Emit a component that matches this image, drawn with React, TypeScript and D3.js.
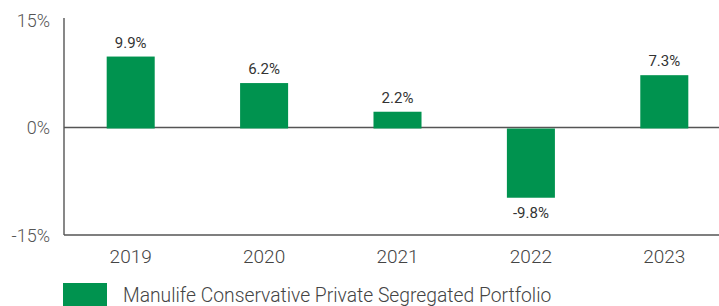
import * as d3 from "d3";

const years = ["2019", "2020", "2021", "2022", "2023"];
const returns = [9.9, 6.2, 2.2, -9.8, 7.3];
const yTicks = [-15, 0, 15];
const seriesName = "Manulife Conservative Private Segregated Portfolio";

const W = 719;
const H = 306;
const FONT = "Roboto, 'Noto Sans', sans-serif";

export default function App() {
  const x = d3.scaleBand<string>().domain(years).range([64, 731]).paddingInner(0.64).paddingOuter(0.32);
  const y = d3.scaleLinear().domain([-15, 15]).range([235, 20]);

  return (
    <svg width={W} height={H} style={{ position: "absolute", left: 0, top: 0, background: "#fff" }}>
      {/* axes */}
      <line x1={64} x2={64} y1={18} y2={y(-15)} stroke="#555" strokeWidth={1.4} />
      <line x1={64} x2={W} y1={y(0)} y2={y(0)} stroke="#555" strokeWidth={1.4} />
      <line x1={64} x2={W} y1={y(-15)} y2={y(-15)} stroke="#555" strokeWidth={1.4} />

      {yTicks.map((t) => (
        <text key={t} x={50} y={y(t) + 2} textAnchor="end" dominantBaseline="middle"
          fontFamily={FONT} fontWeight={300} fontSize={18} fill="#555">
          {t}%
        </text>
      ))}

      {returns.map((v, i) => {
        const x0 = x(years[i])!;
        const top = v >= 0 ? y(v) : y(0) + 1;
        const bot = v >= 0 ? y(0) + 1 : y(v);
        return (
          <g key={years[i]}>
            <rect x={x0} y={top} width={x.bandwidth()} height={bot - top} fill="#00934f" />
            <text x={x0 + x.bandwidth() / 2} y={v >= 0 ? y(v) - 9 : y(v) + 20}
              textAnchor="middle" fontFamily={FONT} fontSize={15} fill="#333">
              {v.toFixed(1)}%
            </text>
          </g>
        );
      })}

      {years.map((yr) => (
        <text key={yr} x={x(yr)! + x.bandwidth() / 2} y={263} textAnchor="middle"
          fontFamily={FONT} fontWeight={300} fontSize={19} fill="#444">
          {yr}
        </text>
      ))}

      <rect x={63} y={283} width={44} height={30} fill="#00934f" />
      <text x={123} y={302} fontFamily={FONT} fontWeight={300} fontSize={19.3} fill="#444">
        {seriesName}
      </text>
    </svg>
  );
}
